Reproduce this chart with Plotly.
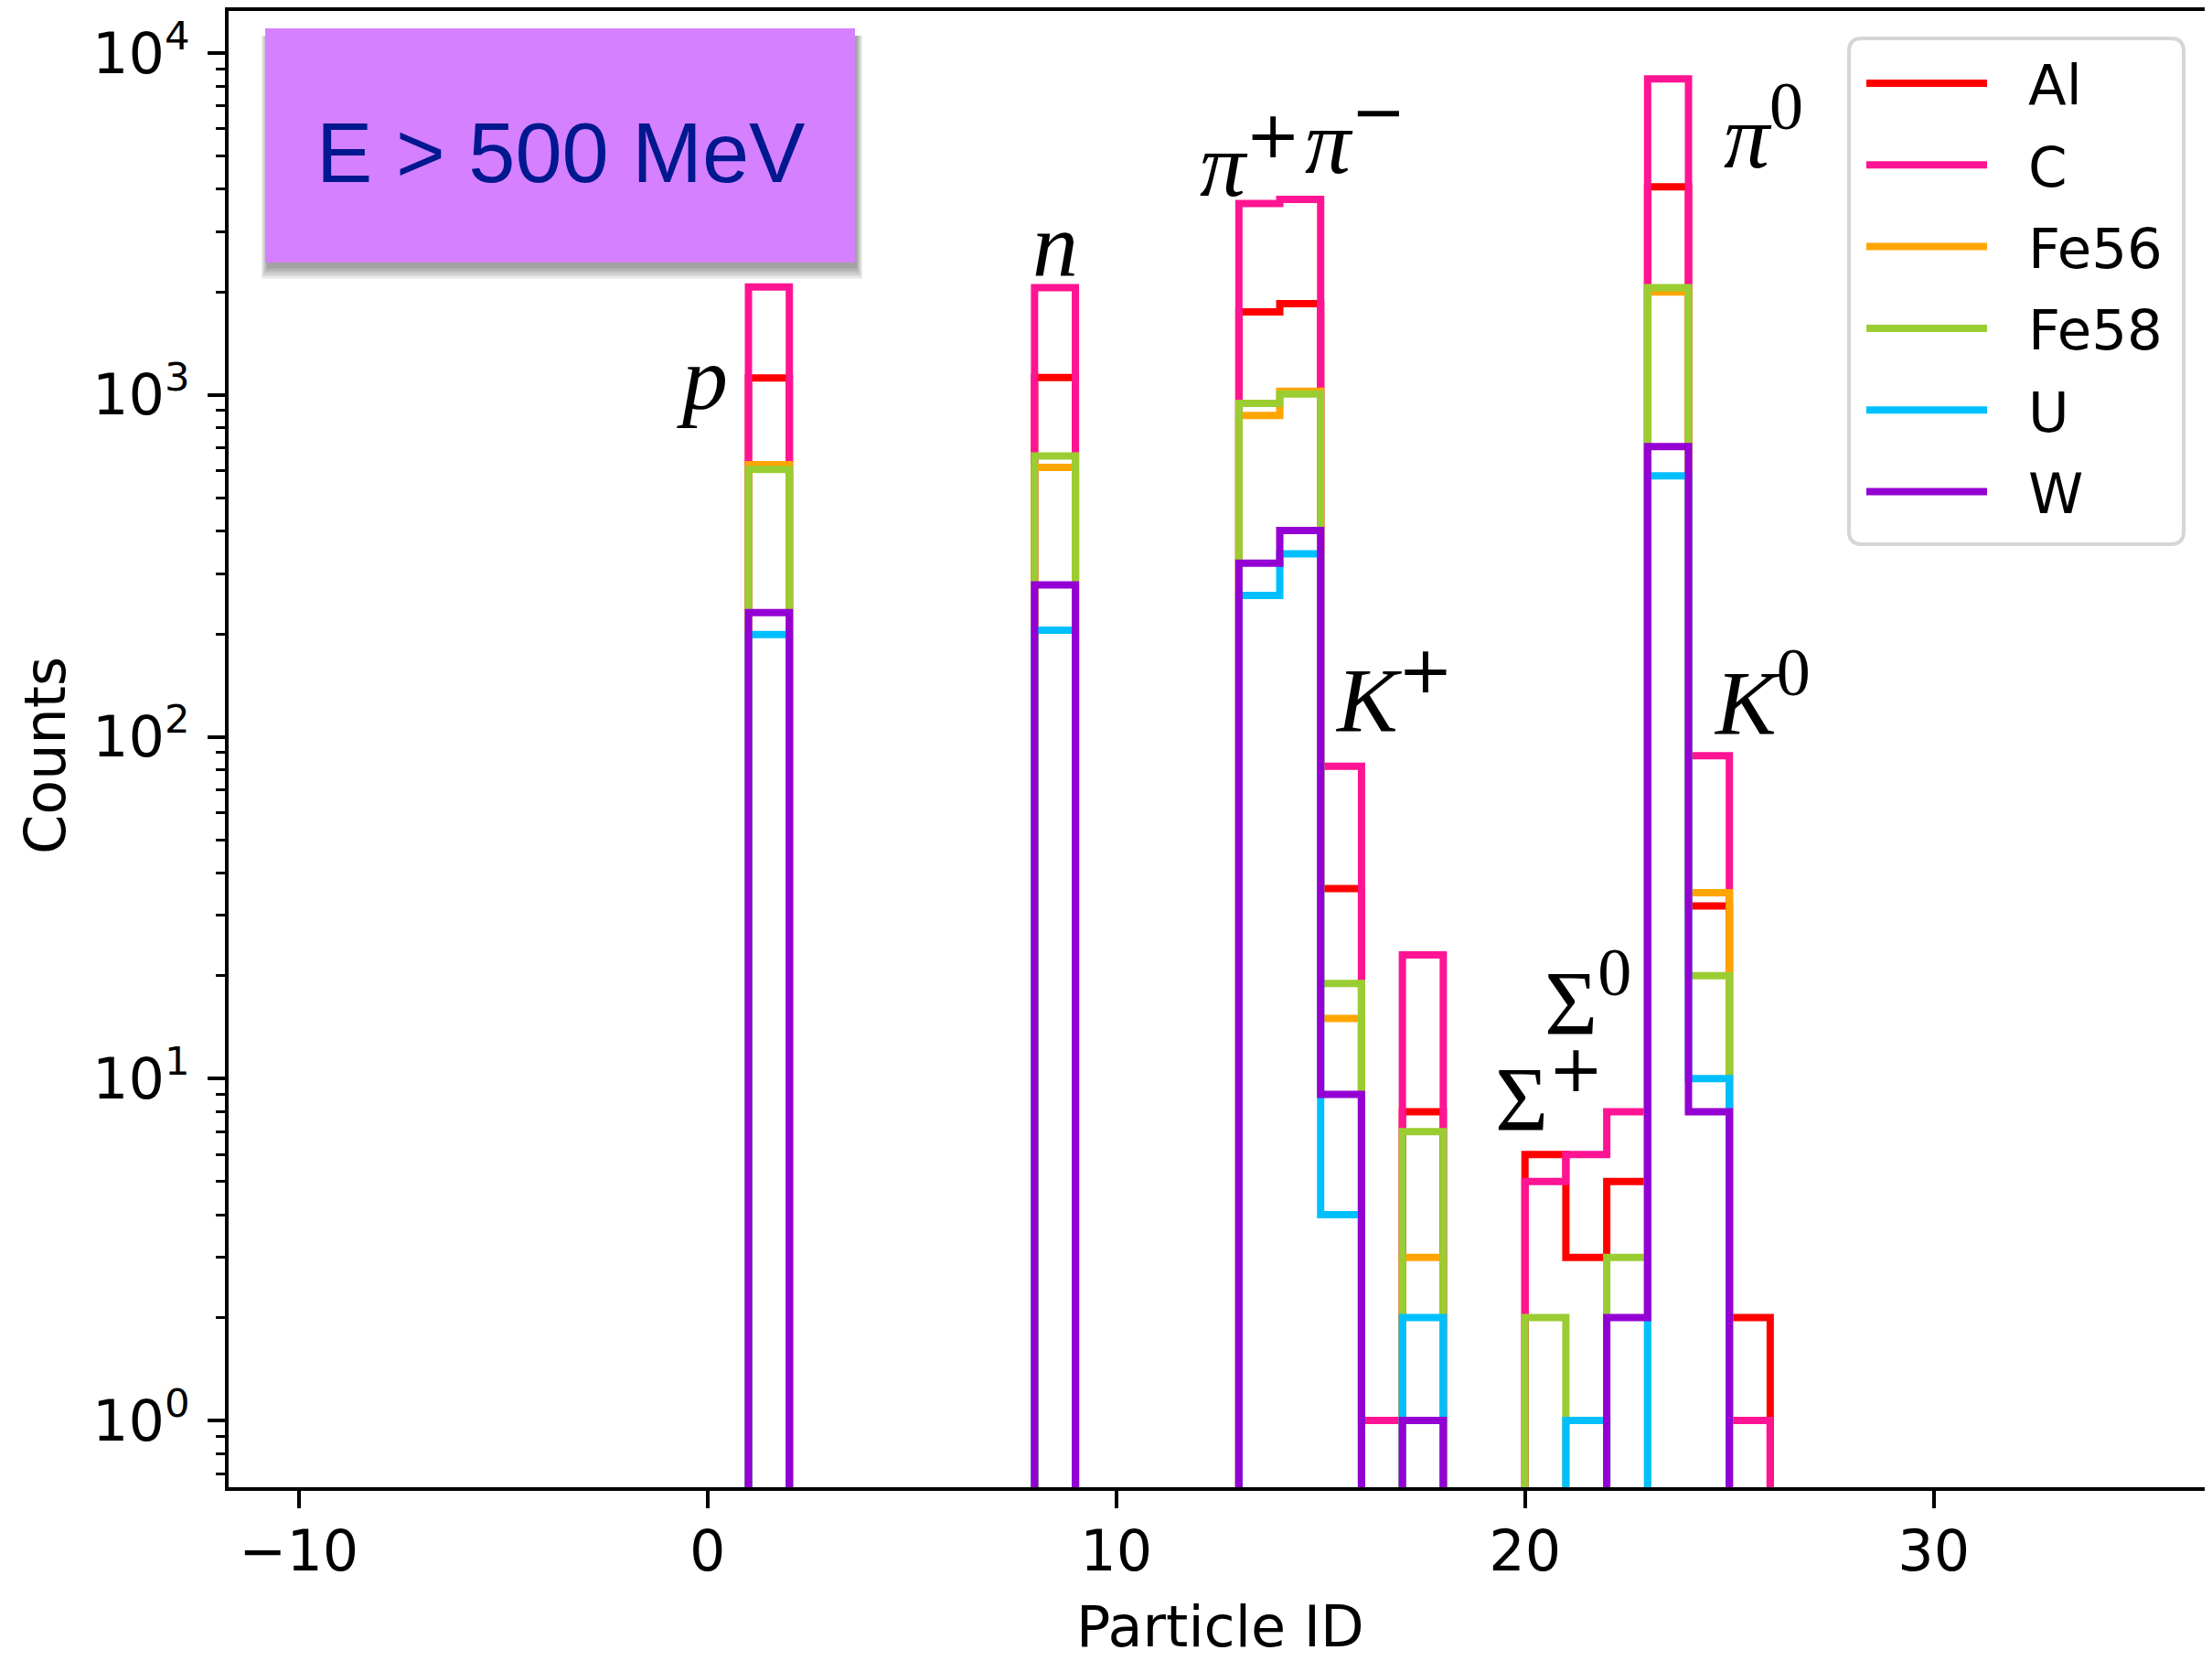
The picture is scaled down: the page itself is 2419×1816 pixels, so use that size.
import plotly.graph_objects as go

# ---------------- data ----------------
particle_ids = [1, 8, 13, 14, 15, 16, 17, 20, 21, 22, 23, 24, 25]
series_names = ["Al", "C", "Fe56", "Fe58", "U", "W"]
counts_Al = [1120, 1125, 1750, 1850, 36, 0, 8, 6, 3, 5, 4060, 32, 2]
counts_C = [2070, 2060, 3630, 3730, 82, 1, 23, 5, 6, 8, 8400, 88, 1]
counts_Fe56 = [625, 614, 870, 1025, 15, 0, 3, 0, 0, 0, 2000, 35, 0]
counts_Fe58 = [605, 663, 945, 1006, 19, 0, 7, 2, 0, 3, 2060, 20, 0]
counts_U = [199, 205, 259, 343, 4, 0, 2, 0, 1, 0, 580, 10, 0]
counts_W = [231, 278, 322, 401, 9, 0, 1, 0, 0, 2, 706, 8, 0]

x_tick_vals = [-10, 0, 10, 20, 30]
x_tick_text = ["\u221210", "0", "10", "20", "30"]
y_tick_vals = [1, 10, 100, 1000, 10000]
y_tick_text = ["10<sup>0</sup>", "10<sup>1</sup>", "10<sup>2</sup>", "10<sup>3</sup>", "10<sup>4</sup>"]

SUP_SIGN = "<sup><span style='font-family:DejaVu Sans;font-size:72px'>{}</span></sup>"
SUP_NUM = "<sup><span style='font-size:74px'>{}</span></sup>"
particle_labels = ["<i>p</i>", "<i>n</i>",
                   "<i>\u03c0</i>" + SUP_SIGN.format("+"), "<i>\u03c0</i>" + SUP_SIGN.format("\u2212"),
                   "<i>K</i>" + SUP_SIGN.format("+"), "<i>\u03c0</i>" + SUP_NUM.format("0"),
                   "<i>K</i>" + SUP_NUM.format("0"),
                   "\u03a3" + SUP_NUM.format("0"), "\u03a3" + SUP_SIGN.format("+")]
box_text = "E > 500 MeV"
x_title = "Particle ID"
y_title = "Counts"

# ---------------- style ----------------
colors = ["#FF0000", "#FF1493", "#FFA500", "#9ACD32", "#00BFFF", "#9400D3"]
all_counts = [counts_Al, counts_C, counts_Fe56, counts_Fe58, counts_U, counts_W]

# page body has an 8px margin: build the figure 8px smaller and keep screen coords
OFF = 8
SCR_W, SCR_H = 2419, 1816
PLOT_L, PLOT_R, PLOT_T, PLOT_B = 250, 2415, 12, 1626   # plot area in screen px
W_FIG, H_FIG = SCR_W - OFF, SCR_H - OFF
ML = PLOT_L - OFF
MT = PLOT_T - OFF
MR = W_FIG - (PLOT_R - OFF)
MB = H_FIG - (PLOT_B - OFF)
PW = PLOT_R - PLOT_L
PH = PLOT_B - PLOT_T


def pxx(X):
    return (X - PLOT_L) / PW


def pxy(Y):
    return (PLOT_B - Y) / PH


fig = go.Figure()

FLOOR = 1e-3
lo = min(particle_ids) - 2
hi = max(particle_ids) + 3
for name, cnts, col in zip(series_names, all_counts, colors):
    lookup = dict(zip(particle_ids, cnts))
    edges = list(range(lo, hi + 1))
    ys = [lookup.get(b, 0) for b in range(lo, hi)]
    ys = ys + [ys[-1]]
    ys = [v if v > 0 else FLOOR for v in ys]
    fig.add_trace(go.Scatter(x=edges, y=ys, mode="lines", name=name,
                             line=dict(color=col, width=8, shape="hv"),
                             showlegend=False, hoverinfo="skip"))

TICKFONT = dict(family="DejaVu Sans", size=62, color="black")

minor_vals = []
for e in [0.1, 1, 10, 100, 1000]:
    for k in range(2, 10):
        minor_vals.append(k * e)

fig.update_layout(
    width=W_FIG, height=H_FIG,
    margin=dict(l=ML, r=MR, t=MT, b=MB, pad=0, autoexpand=False),
    paper_bgcolor="white", plot_bgcolor="white",
    showlegend=False,
    xaxis=dict(range=[-11.72, 36.72], tickmode="array", tickvals=x_tick_vals, ticktext=x_tick_text,
               ticks="outside", ticklen=19, tickwidth=4, tickcolor="black",
               showline=True, linewidth=4, linecolor="black", mirror=True, automargin=False,
               showgrid=False, zeroline=False, tickfont=TICKFONT, ticklabelstandoff=-6),
    yaxis=dict(type="log", range=[-0.195, 4.123], tickmode="array", tickvals=y_tick_vals,
               ticktext=y_tick_text, automargin=False,
               ticks="outside", ticklen=19, tickwidth=4, tickcolor="black",
               showline=True, linewidth=4, linecolor="black", mirror=True,
               showgrid=False, zeroline=False, tickfont=TICKFONT, ticklabelstandoff=7,
               minor=dict(tickmode="array", tickvals=minor_vals, ticks="outside",
                          ticklen=10, tickwidth=3, tickcolor="black", showgrid=False)),
)

annotations = []
shapes = []

# axis titles
annotations.append(dict(text=x_title, xref="paper", yref="paper", x=pxx(1334), y=pxy(1779),
                        xanchor="center", yanchor="middle", showarrow=False,
                        font=dict(family="DejaVu Sans", size=62, color="black")))
annotations.append(dict(text=y_title, xref="paper", yref="paper", x=pxx(49), y=pxy(826),
                        xanchor="center", yanchor="middle", showarrow=False, textangle=-90,
                        font=dict(family="DejaVu Sans", size=62, color="black")))

# particle labels (left x in particle-ID units, bottom y in log10 counts)
label_pos = [(-0.80, 2.895), (7.90, 3.286), (12.00, 3.518), (14.57, 3.585),
             (15.31, 1.953), (24.82, 3.601), (24.57, 1.945), (20.43, 1.068), (19.22, 0.787)]
for txt, (lx, ly) in zip(particle_labels, label_pos):
    annotations.append(dict(text=txt, xref="x", yref="y", x=lx, y=ly, xanchor="left",
                            yanchor="bottom", showarrow=False,
                            font=dict(family="Liberation Serif", size=100, color="black")))

# E > 500 MeV box with shadow
bx0, by0, bx1, by1 = 290, 31, 935, 287
for s in range(0, 12, 2):
    shapes.append(dict(type="rect", xref="paper", yref="paper",
                       x0=pxx(bx0 + 2 - s * 0.6), x1=pxx(bx1 + 2 + s * 0.6),
                       y0=pxy(by0 + 8), y1=pxy(by1 + 6 + s * 1.2),
                       fillcolor="rgba(0,0,0,0.07)", line=dict(width=0), layer="above"))
shapes.append(dict(type="rect", xref="paper", yref="paper",
                   x0=pxx(bx0), x1=pxx(bx1), y0=pxy(by0), y1=pxy(by1),
                   fillcolor="#D580FF", line=dict(width=0), layer="above"))
annotations.append(dict(text=box_text, xref="paper", yref="paper", x=pxx(613), y=pxy(167),
                        xanchor="center", yanchor="middle", showarrow=False,
                        font=dict(family="Liberation Sans", size=92, color="#00188F")))

# manual legend
lx0, ly0, lx1, ly1, rr = 2022, 42, 2388, 595, 14


def rounded_path(x0, y0, x1, y1, r):
    P = lambda X, Y: f"{pxx(X):.6f},{pxy(Y):.6f}"
    return (f"M {P(x0 + r, y0)} L {P(x1 - r, y0)} Q {P(x1, y0)} {P(x1, y0 + r)} "
            f"L {P(x1, y1 - r)} Q {P(x1, y1)} {P(x1 - r, y1)} "
            f"L {P(x0 + r, y1)} Q {P(x0, y1)} {P(x0, y1 - r)} "
            f"L {P(x0, y0 + r)} Q {P(x0, y0)} {P(x0 + r, y0)} Z")


shapes.append(dict(type="path", xref="paper", yref="paper", path=rounded_path(lx0, ly0, lx1, ly1, rr),
                   fillcolor="rgba(255,255,255,0.8)", line=dict(color="#D6D6D6", width=4), layer="above"))
for i, (name, col) in enumerate(zip(series_names, colors)):
    yy = 91 + i * 89.3
    shapes.append(dict(type="line", xref="paper", yref="paper", x0=pxx(2041), x1=pxx(2173),
                       y0=pxy(yy), y1=pxy(yy), line=dict(color=col, width=8), layer="above"))
    annotations.append(dict(text=name, xref="paper", yref="paper", x=pxx(2216), y=pxy(yy + 2),
                            xanchor="left", yanchor="middle", showarrow=False,
                            font=dict(family="DejaVu Sans", size=61, color="black")))

fig.update_layout(annotations=annotations, shapes=shapes)
fig.write_html("out.html")
